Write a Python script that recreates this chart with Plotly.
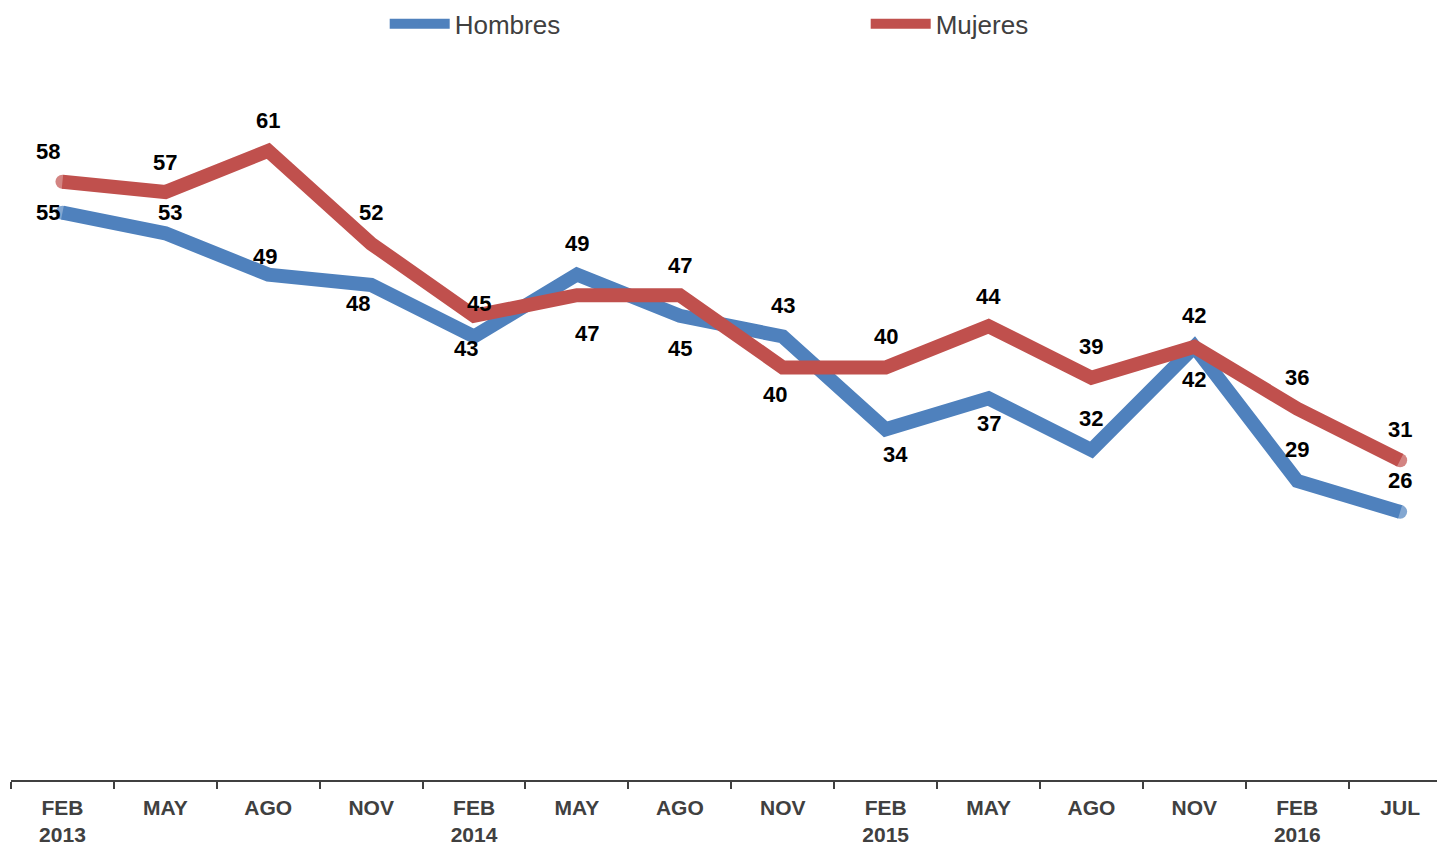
import plotly.graph_objects as go

# datos
periodos = ["FEB<br>2013", "MAY", "AGO", "NOV", "FEB<br>2014", "MAY", "AGO", "NOV",
            "FEB<br>2015", "MAY", "AGO", "NOV", "FEB<br>2016", "JUL"]
hombres = [55, 53, 49, 48, 43, 49, 45, 43, 34, 37, 32, 42, 29, 26]
mujeres = [58, 57, 61, 52, 45, 47, 47, 40, 40, 44, 39, 42, 36, 31]

# desplazamiento de las etiquetas (px) respecto al punto
off_hombres = [(-14, 0), (5, 21), (-3, 18), (-13, -19), (-8, -12), (0, 31), (0, -33),
               (0, 31), (10, -25), (0, -25), (0, 31), (0, -33), (0, 31), (0, 31)]
off_mujeres = [(-14, 30), (0, 30), (0, 30), (0, 31), (5, 12), (10, -38), (0, 30),
               (-8, -27), (0, 31), (0, 30), (0, 31), (0, 31), (0, 31), (0, 31)]

azul = "#4F81BD"
rojo = "#C0504D"
fuente = "Arial, Liberation Sans, sans-serif"

x = list(range(len(periodos)))
n = len(x)
extremos = [14] + [0] * (n - 2) + [14]   # para que los extremos queden redondeados

fig = go.Figure()
fig.add_trace(go.Scatter(x=x, y=hombres, name="Hombres", mode="lines+markers",
                         line=dict(color=azul, width=14),
                         marker=dict(color=azul, size=extremos, line=dict(width=0)),
                         hoverinfo="y"))
fig.add_trace(go.Scatter(x=x, y=mujeres, name="Mujeres", mode="lines+markers",
                         line=dict(color=rojo, width=14),
                         marker=dict(color=rojo, size=extremos, line=dict(width=0)),
                         hoverinfo="y"))

for serie, off in ((hombres, off_hombres), (mujeres, off_mujeres)):
    for i, v in enumerate(serie):
        fig.add_annotation(x=i, y=v, text=f"<b>{v}</b>", showarrow=False,
                           xshift=off[i][0], yshift=off[i][1],
                           font=dict(family=fuente, size=22, color="black"))

fig.update_xaxes(range=[-0.5, 13.436], tickvals=x, ticktext=[f"<b>{p}</b>" for p in periodos],
                 tickfont=dict(family=fuente, size=21, color="#404040"),
                 ticklabelstandoff=8, automargin=False,
                 showline=True, linecolor="#404040", linewidth=1.5,
                 ticks="", showgrid=False, zeroline=False,
                 minor=dict(tickvals=[i - 0.5 for i in x], ticks="outside", ticklen=7,
                            tickcolor="#404040", tickwidth=1.5, showgrid=False))
fig.update_yaxes(range=[0, 70], visible=False, showgrid=False, zeroline=False,
                 automargin=False)

# la página deja 8 px de margen en el body; se compensa aquí
fig.update_layout(
    width=1437, height=838,
    margin=dict(l=3, r=0, t=50, b=66, autoexpand=False),
    plot_bgcolor="white", paper_bgcolor="white",
    showlegend=True,
    legend=dict(orientation="h", x=0.2606, xanchor="left",
                yref="container", y=0.981, yanchor="middle",
                entrywidth=406, font=dict(family=fuente, size=26, color="#404040"),
                itemwidth=60),
)

fig.write_html("out.html")
